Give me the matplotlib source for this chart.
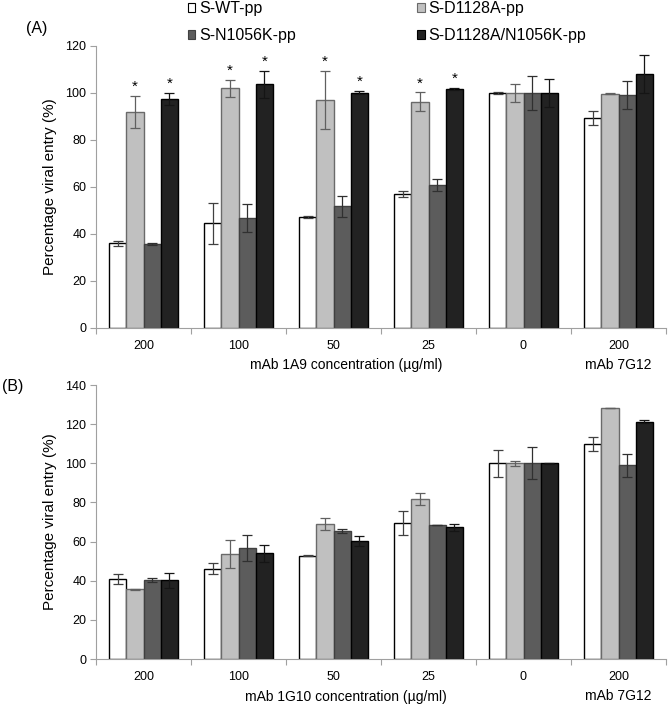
import matplotlib
matplotlib.use("Agg")
import matplotlib.pyplot as plt
import numpy as np
from matplotlib.patches import Patch

plt.rcParams['font.family'] = ['Liberation Sans', 'DejaVu Sans']

# ---- data ----
groups = ['200', '100', '50', '25', '0', '200']
series = ['S-WT-pp', 'S-D1128A-pp', 'S-N1056K-pp', 'S-D1128A/N1056K-pp']

# panel A: mAb 1A9
a_wt = [36.0, 44.5, 47.2, 57.0, 100.0, 89.4]
a_d1128a = [92.0, 102.0, 97.0, 96.3, 100.0, 99.7]
a_n1056k = [35.7, 46.7, 51.8, 60.9, 100.0, 99.0]
a_double = [97.4, 103.7, 100.1, 101.6, 100.0, 108.0]
a_wt_err = [1.2, 8.6, 0.5, 1.2, 0.3, 3.1]
a_d1128a_err = [6.8, 3.5, 12.5, 4.0, 3.8, 0.3]
a_n1056k_err = [0.3, 5.9, 4.5, 2.5, 7.3, 5.9]
a_double_err = [2.7, 5.7, 0.7, 0.5, 6.1, 8.1]
# asterisks on D1128A and double mutant for first four groups
a_star_groups = [0, 1, 2, 3]

# panel B: mAb 1G10
b_wt = [40.7, 46.2, 52.8, 69.7, 100.0, 109.7]
b_d1128a = [35.7, 53.8, 69.0, 81.7, 100.0, 128.2]
b_n1056k = [40.5, 56.9, 65.4, 68.7, 100.0, 99.0]
b_double = [40.2, 54.0, 60.3, 67.3, 100.0, 121.3]
b_wt_err = [2.5, 3.0, 0.3, 6.1, 7.0, 3.6]
b_d1128a_err = [0.3, 7.1, 2.9, 3.2, 1.3, 0.1]
b_n1056k_err = [1.0, 6.7, 0.9, 0.0, 8.1, 6.0]
b_double_err = [3.8, 4.3, 2.4, 1.9, 0.4, 0.8]

fills = ['#ffffff', '#c0c0c0', '#5c5c5c', '#222222']
edges = ['#000000', '#6a6a6a', '#404040', '#000000']
ecols = ['#404040', '#606060', '#303030', '#151515']

W, H = 669, 708
fig = plt.figure(figsize=(W / 100, H / 100), dpi=100)
axA = fig.add_axes([96 / W, (H - 328) / H, 570 / W, 282 / H])
axB = fig.add_axes([96 / W, (H - 659) / H, 570 / W, 274 / H])

x = np.arange(len(groups))
bw = 0.182
offs = [-1.5 * bw, -0.5 * bw, 0.5 * bw, 1.5 * bw]


def draw(ax, vals, errs, ymax, xlabel):
    for i in range(4):
        ax.bar(x + offs[i], vals[i], bw, color=fills[i], edgecolor=edges[i],
               linewidth=1.0, zorder=2)
        ax.errorbar(x + offs[i], vals[i], yerr=errs[i], fmt='none',
                    ecolor=ecols[i], elinewidth=0.9, capsize=3.5,
                    capthick=0.9, zorder=3)
    ax.set_xlim(-0.5, len(groups) - 0.5)
    ax.set_ylim(0, ymax)
    ax.set_yticks(np.arange(0, ymax + 1, 20))
    ax.set_xticks(np.arange(-0.5, len(groups), 1.0))
    ax.set_xticklabels([])
    ax.set_xticks(x, minor=True)
    ax.set_xticklabels(groups, minor=True)
    ax.tick_params(axis='x', which='major', length=4, color='#a0a0a0', width=0.8)
    ax.tick_params(axis='x', which='minor', length=0, pad=9, labelsize=9)
    ax.tick_params(axis='y', length=4, color='#a0a0a0', width=0.8, labelsize=9, pad=3)
    for s in ['top', 'right']:
        ax.spines[s].set_visible(False)
    for s in ['left', 'bottom']:
        ax.spines[s].set_color('#a0a0a0')
        ax.spines[s].set_linewidth(0.8)
    ax.set_ylabel('Percentage viral entry (%)', fontsize=11, labelpad=6)
    ax.annotate(xlabel, xy=(2.13, 0), xycoords=('data', 'axes fraction'),
                xytext=(0, -27), textcoords='offset points',
                ha='center', va='center', fontsize=10)
    ax.annotate('mAb 7G12', xy=(5.0, 0), xycoords=('data', 'axes fraction'),
                xytext=(0, -27), textcoords='offset points',
                ha='center', va='center', fontsize=10)


draw(axA, [a_wt, a_d1128a, a_n1056k, a_double],
     [a_wt_err, a_d1128a_err, a_n1056k_err, a_double_err], 120,
     'mAb 1A9 concentration (µg/ml)')
draw(axB, [b_wt, b_d1128a, b_n1056k, b_double],
     [b_wt_err, b_d1128a_err, b_n1056k_err, b_double_err], 140,
     'mAb 1G10 concentration (µg/ml)')

# significance marks
for g in a_star_groups:
    for i, (v, e) in [(1, (a_d1128a, a_d1128a_err)), (3, (a_double, a_double_err))]:
        axA.text(x[g] + offs[i], v[g] + e[g] + 3.8, '*', ha='center',
                 va='center', fontsize=11)

fig.text(26 / W, 1 - 29 / H, '(A)', fontsize=11.5, ha='left', va='center')
fig.text(2 / W, 1 - 387 / H, '(B)', fontsize=11.5, ha='left', va='center')

handles = [Patch(facecolor=fills[k], edgecolor=edges[k], linewidth=0.8) for k in [0, 2, 1, 3]]
labels = [series[k] for k in [0, 2, 1, 3]]
fig.legend(handles, labels, ncol=2, loc='upper left',
           bbox_to_anchor=(188 / W, 1 - 1 / H), frameon=False, fontsize=11.5,
           handlelength=0.45, handleheight=0.45, handletextpad=0.25,
           columnspacing=7.6, labelspacing=0.75, borderpad=0, borderaxespad=0)

fig.savefig('out.png', dpi=100)
